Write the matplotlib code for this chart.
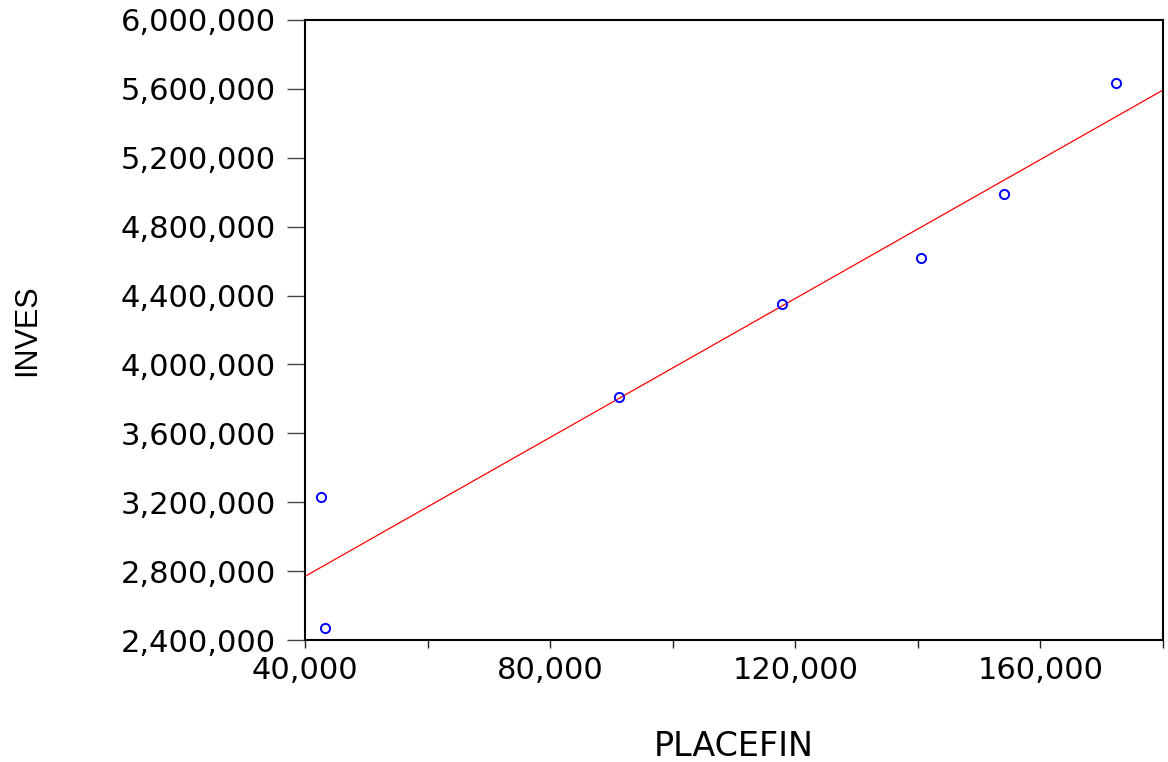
import numpy as np
import matplotlib
matplotlib.use("Agg")
from matplotlib import pyplot as plt
from matplotlib.ticker import MultipleLocator, FuncFormatter

# PLACEFIN vs INVES observations
placefin = [42600, 43250, 91200, 117900, 140500, 154000, 172400]
inves = [3230000, 2470000, 3811000, 4351000, 4618000, 4990000, 5634000]

x_min, x_max = 40000, 180000
y_min, y_max = 2400000, 6000000

# least squares fit line
slope, intercept = np.polyfit(placefin, inves, 1)
xfit = np.array([x_min, x_max])
yfit = slope * xfit + intercept

fig = plt.figure(figsize=(11.68, 7.62), dpi=100)
ax = fig.add_axes([0.2611, 0.1601, 0.7346, 0.8137])

ax.plot(xfit, yfit, color="red", lw=0.9, zorder=2)
ax.plot(placefin, inves, "o", ms=6.6, mfc="none", mec="blue", mew=1.4,
        zorder=3, clip_on=False)

ax.set_xlim(x_min, x_max)
ax.set_ylim(y_min, y_max)

comma = FuncFormatter(lambda v, p: "{:,.0f}".format(v))
ax.xaxis.set_major_locator(MultipleLocator(40000))
ax.xaxis.set_minor_locator(MultipleLocator(20000))
ax.yaxis.set_major_locator(MultipleLocator(400000))
ax.xaxis.set_major_formatter(comma)
ax.yaxis.set_major_formatter(comma)

for s in ax.spines.values():
    s.set_linewidth(1.5)

ax.tick_params(axis="y", which="major", direction="out", length=13,
               width=1, color="#444444", pad=8, labelsize=22)
ax.tick_params(axis="x", which="both", direction="out", length=5.5,
               width=1, color="#222222", pad=6, labelsize=22)

ax.set_xlabel("PLACEFIN", fontsize=24, va="top")
ax.xaxis.set_label_coords(0.5, -0.145)
ax.set_ylabel("INVES", fontsize=22, family="Liberation Sans", va="center")
ax.yaxis.set_label_coords(-0.3235, 0.5)

fig.savefig("out.png", dpi=100)
